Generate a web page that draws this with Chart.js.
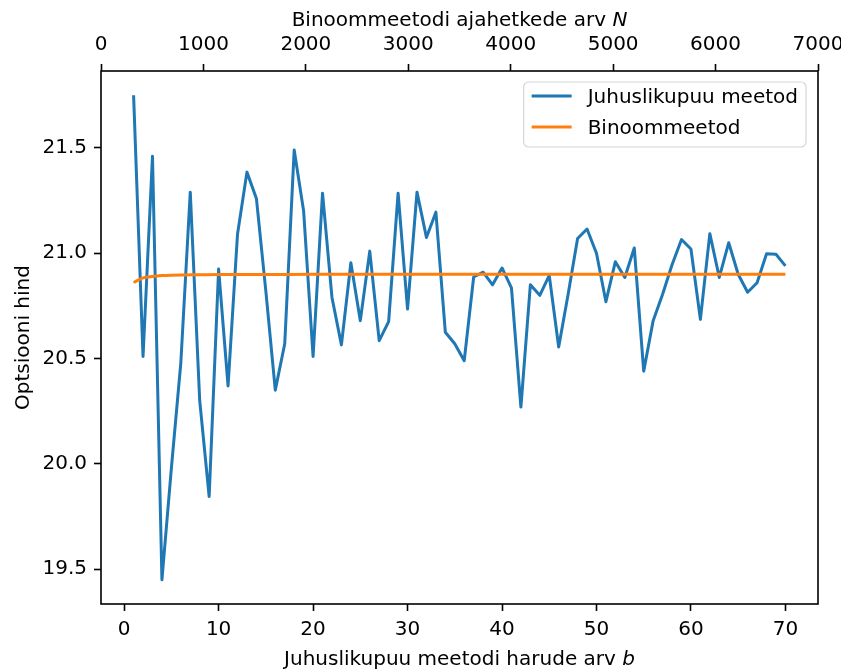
<!DOCTYPE html>
<html lang="et">
<head>
  <meta charset="UTF-8">
  <title>Optsiooni hind</title>
  <script src="https://cdn.jsdelivr.net/npm/chart.js"></script>
  <style>
    html, body { margin: 0; background: #fff; }
    #wrap { width: 841px; height: 671px; }
  </style>
</head>
<body>

<div id="wrap"><canvas id="hindChart" width="841" height="671"></canvas></div>

<script>
// juhuslikupuu meetod: harude arv b
const harudeArv = [1, 2, 3, 4, 5, 6, 7, 8, 9, 10, 11, 12, 13, 14, 15, 16, 17, 18, 19, 20,
  21, 22, 23, 24, 25, 26, 27, 28, 29, 30, 31, 32, 33, 34, 35, 36, 37, 38, 39, 40,
  41, 42, 43, 44, 45, 46, 47, 48, 49, 50, 51, 52, 53, 54, 55, 56, 57, 58, 59, 60,
  61, 62, 63, 64, 65, 66, 67, 68, 69, 70];
const juhuslikHind = [21.75, 20.51, 21.46, 19.45, 19.98, 20.48, 21.29, 20.30, 19.845, 20.925,
  20.37, 21.09, 21.385, 21.26, 20.82, 20.35, 20.57, 21.49, 21.20, 20.51,
  21.285, 20.79, 20.565, 20.955, 20.68, 21.01, 20.585, 20.675, 21.285, 20.735,
  21.29, 21.075, 21.195, 20.625, 20.57, 20.49, 20.887, 20.91, 20.85, 20.93,
  20.836, 20.27, 20.85, 20.80, 20.895, 20.555, 20.805, 21.07, 21.115, 21.0,
  20.77, 20.96, 20.885, 21.025, 20.44, 20.68, 20.805, 20.945, 21.065, 21.02,
  20.686, 21.093, 20.885, 21.05, 20.90, 20.815, 20.86, 20.997, 20.995, 20.94];

// binoommeetod
const binoomB = [1, 2, 3, 4, 5, 6, 8, 10, 15, 20, 30, 40, 50, 60, 70];
const binoomHind = [20.861, 20.883, 20.890, 20.894, 20.896, 20.897, 20.898, 20.899, 20.899,
  20.900, 20.900, 20.900, 20.900, 20.900, 20.900];

// teljed
const bTicks = [0, 10, 20, 30, 40, 50, 60, 70];
const nTicks = [0, 1000, 2000, 3000, 4000, 5000, 6000, 7000];
const hindTicks = [19.5, 20.0, 20.5, 21.0, 21.5];

const FONT = '"DejaVu Sans", sans-serif';
Chart.defaults.font.family = FONT;
Chart.defaults.font.size = 20;
Chart.defaults.color = '#000';

const tickGrid = {
  display: true,
  drawOnChartArea: false,
  drawTicks: true,
  tickLength: 7,
  tickWidth: 1.6,
  tickColor: '#000'
};

// telgede pealkirjad (kursiivne muutuja lõpus)
function drawMixed(ctx, parts, x, y, rotate) {
  ctx.save();
  ctx.translate(x, y);
  if (rotate) ctx.rotate(-Math.PI / 2);
  ctx.textBaseline = 'alphabetic';
  ctx.textAlign = 'left';
  let total = 0;
  parts.forEach(p => {
    ctx.font = (p.it ? 'italic ' : '') + '20px ' + FONT;
    total += ctx.measureText(p.t).width;
  });
  let cx = -total / 2;
  parts.forEach(p => {
    ctx.font = (p.it ? 'italic ' : '') + '20px ' + FONT;
    ctx.fillStyle = '#000';
    ctx.fillText(p.t, cx, 0);
    cx += ctx.measureText(p.t).width;
  });
  ctx.restore();
}

const frameAndTitles = {
  id: 'frameAndTitles',
  afterDatasetsDraw(chart) {
    const { ctx, chartArea: a } = chart;
    ctx.save();
    ctx.strokeStyle = '#000';
    ctx.lineWidth = 1.6;
    ctx.strokeRect(a.left, a.top, a.right - a.left, a.bottom - a.top);
    ctx.restore();

    const mid = (a.left + a.right) / 2;
    drawMixed(ctx, [{ t: 'Juhuslikupuu meetodi harude arv ' }, { t: 'b', it: true }], mid, a.bottom + 61);
    drawMixed(ctx, [{ t: 'Binoommeetodi ajahetkede arv ' }, { t: 'N', it: true }], mid, a.top - 45);
    drawMixed(ctx, [{ t: 'Optsiooni hind' }], a.left - 72, (a.top + a.bottom) / 2, true);
  }
};

// legend graafiku sees, paremal üleval
const legendBox = {
  id: 'legendBox',
  afterDraw(chart) {
    const { ctx, chartArea: a } = chart;
    const items = chart.data.datasets;
    ctx.save();
    ctx.font = '20px ' + FONT;
    const textW = Math.max(...items.map(d => ctx.measureText(d.label).width));
    const w = 8 + 40 + 16 + textW + 8;
    const h = 65;
    const right = a.right - 12;
    const left = right - w;
    const top = a.top + 11;

    ctx.beginPath();
    ctx.roundRect(left, top, w, h, 5);
    ctx.fillStyle = 'rgba(255,255,255,0.8)';
    ctx.fill();
    ctx.strokeStyle = '#d6d6d6';
    ctx.lineWidth = 1.2;
    ctx.stroke();

    items.forEach((d, i) => {
      const cy = top + 14 + i * 31;
      ctx.beginPath();
      ctx.moveTo(left + 8, cy);
      ctx.lineTo(left + 48, cy);
      ctx.strokeStyle = d.borderColor;
      ctx.lineWidth = 3;
      ctx.stroke();
      ctx.fillStyle = '#000';
      ctx.textBaseline = 'alphabetic';
      ctx.fillText(d.label, left + 64, cy + 7.3);
    });
    ctx.restore();
  }
};

new Chart(document.getElementById('hindChart'), {
  type: 'line',
  data: {
    datasets: [
      {
        label: 'Juhuslikupuu meetod',
        data: harudeArv.map((b, i) => ({ x: b, y: juhuslikHind[i] })),
        borderColor: '#1f77b4',
        borderWidth: 3,
        borderJoinStyle: 'round',
        pointRadius: 0,
        tension: 0,
        order: 2
      },
      {
        label: 'Binoommeetod',
        data: binoomB.map((b, i) => ({ x: b, y: binoomHind[i] })),
        borderColor: '#ff7f0e',
        borderWidth: 3,
        borderJoinStyle: 'round',
        pointRadius: 0,
        cubicInterpolationMode: 'monotone',
        order: 1
      }
    ]
  },
  options: {
    responsive: false,
    animation: false,
    layout: { padding: { left: 0, right: 23, top: 0, bottom: 0 } },
    plugins: {
      legend: { display: false },
      tooltip: { enabled: false }
    },
    scales: {
      x: {
        type: 'linear',
        position: 'bottom',
        min: -2.45,
        max: 73.45,
        afterBuildTicks: s => { s.ticks = bTicks.map(v => ({ value: v })); },
        afterFit: s => { s.height = 67; s.paddingLeft = 0; s.paddingRight = 0; },
        grid: tickGrid,
        border: { display: false },
        ticks: { padding: 7, maxRotation: 0, autoSkip: false, callback: v => String(v) }
      },
      x2: {
        type: 'linear',
        position: 'top',
        min: 0,
        max: 7000,
        afterBuildTicks: s => { s.ticks = nTicks.map(v => ({ value: v })); },
        afterFit: s => { s.height = 71; s.paddingLeft = 0; s.paddingRight = 0; },
        grid: tickGrid,
        border: { display: false },
        ticks: { padding: 7, maxRotation: 0, autoSkip: false, callback: v => String(v) }
      },
      y: {
        type: 'linear',
        position: 'left',
        min: 19.335,
        max: 21.865,
        afterBuildTicks: s => { s.ticks = hindTicks.map(v => ({ value: v })); },
        afterFit: s => { s.width = 101; s.paddingTop = 0; s.paddingBottom = 0; },
        grid: tickGrid,
        border: { display: false },
        ticks: { padding: 7, callback: v => v.toFixed(1) }
      }
    }
  },
  plugins: [frameAndTitles, legendBox]
});
</script>

</body>
</html>
